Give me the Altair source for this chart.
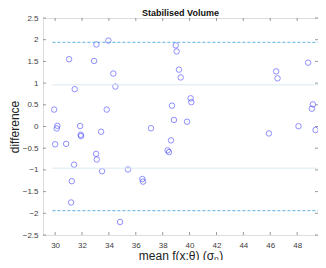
import altair as alt
import pandas as pd

mean_x = [29.93, 30.17, 30.12, 31.04, 31.46, 31.86, 31.90, 32.90, 33.07, 33.42,
          33.84, 33.96, 34.33, 34.48, 37.13, 30.00, 30.82, 31.93, 31.41, 31.24,
          31.19, 33.05, 33.10, 33.49, 34.83, 35.42, 36.49, 36.54, 38.97, 39.04,
          39.21, 39.34, 38.69, 38.84, 39.81, 40.08, 40.13, 45.90, 46.44, 46.54,
          48.82, 48.10, 49.17, 49.09, 49.37, 38.62, 38.37, 38.47]
diff_y = [0.39, 0.015, -0.045, 1.55, 0.86, 0.01, -0.19, 1.51, 1.89, -0.12,
          0.39, 1.98, 1.22, 0.92, -0.04, -0.41, -0.40, -0.22, -0.88, -1.26,
          -1.75, -0.63, -0.76, -1.03, -2.20, -0.99, -1.21, -1.27, 1.87, 1.73,
          1.31, 1.13, 0.48, 0.15, 0.11, 0.65, 0.56, -0.16, 1.27, 1.11,
          1.47, 0.007, 0.51, 0.41, -0.08, -0.32, -0.55, -0.59]

dash_levels = [1.94, -1.94]
solid_levels = [0.96, -0.96]
line_x_start = 29.8
line_x_end = 49.6

x_ticks = [30, 32, 34, 36, 38, 40, 42, 44, 46, 48, 50]
y_ticks = [-2.5, -2, -1.5, -1, -0.5, 0, 0.5, 1, 1.5, 2, 2.5]
x_domain = [29.1, 49.55]
y_domain = [-2.5, 2.5]
chart_title = ["Stabilised Volume"]

pts = pd.DataFrame({"x": mean_x, "y": diff_y})
dash_df = pd.DataFrame({"x": [line_x_start] * 2, "x2": [line_x_end] * 2, "y": dash_levels})
solid_df = pd.DataFrame({"x": [line_x_start] * 2, "x2": [line_x_end] * 2, "y": solid_levels})
xt = pd.DataFrame({"x": x_ticks})
yt = pd.DataFrame({"y": y_ticks})
tt = pd.DataFrame({"label": chart_title})

FONT = "Liberation Sans"
W, H = 275, 217
xs = alt.Scale(domain=x_domain, nice=False, zero=False)
ys = alt.Scale(domain=y_domain, nice=False, zero=False)

AX = alt.Axis(
    values=x_ticks, format="d", title="mean f(x;θ) (σₙ)", grid=False, ticks=False, domain=False,
    labelFontSize=8, labelColor="#404040", labelPadding=6, labelFont=FONT,
    labelOverlap=False, labelFlush=False,
    titleFont=FONT, titleFontSize=12, titleFontWeight="normal", titleColor="#222222",
    titlePadding=1)
AY = alt.Axis(
    values=y_ticks, format=".1~f", title="difference", grid=False, ticks=False, domain=False,
    labelFontSize=8, labelColor="#404040", labelPadding=5, labelFont=FONT,
    labelFlush=False, labelOverlap=False,
    titleFont=FONT, titleFontSize=12, titleFontWeight="normal", titleColor="#222222",
    titlePadding=1)

X = alt.X("x:Q", scale=xs, axis=AX, title="mean f(x;θ) (σₙ)")
Y = alt.Y("y:Q", scale=ys, axis=AY, title="difference")

points = alt.Chart(pts).mark_point(shape="circle", filled=False, color="#3a3aff",
                                   strokeWidth=0.8, size=30).encode(x=X, y=Y)

dash = alt.Chart(dash_df).mark_rule(color="#4aa8e0", strokeDash=[3, 2], strokeWidth=0.9).encode(
    x=X, x2="x2", y=Y)
solid = alt.Chart(solid_df).mark_rule(color="#d6e6ee", strokeWidth=0.9).encode(
    x=X, x2="x2", y=Y)

tick_col = "#808080"
xtick_bot = alt.Chart(xt).mark_rule(color=tick_col, strokeWidth=0.8).encode(
    x=X, y=alt.value(H), y2=alt.value(H - 3))
xtick_top = alt.Chart(xt).mark_rule(color=tick_col, strokeWidth=0.8).encode(
    x=X, y=alt.value(0), y2=alt.value(3))
ytick_l = alt.Chart(yt).mark_rule(color=tick_col, strokeWidth=0.8).encode(
    y=Y, x=alt.value(0), x2=alt.value(3))
ytick_r = alt.Chart(yt).mark_rule(color=tick_col, strokeWidth=0.8).encode(
    y=Y, x=alt.value(W), x2=alt.value(W - 3))

title_txt = alt.Chart(tt).mark_text(font=FONT, fontSize=9, fontWeight="bold", color="#111111",
                                    baseline="alphabetic", align="center").encode(
    text="label:N", x=alt.value(W / 2), y=alt.value(-2))

chart = alt.layer(points, solid, dash, xtick_bot, xtick_top, ytick_l, ytick_r, title_txt).properties(
    width=W, height=H,
    padding={"left": 35, "top": 10, "right": 0, "bottom": 25},
    autosize=alt.AutoSizeParams(type="none"),
).configure_view(stroke="#808080", strokeWidth=1).configure(background="white")

chart.save("out.html", embed_options={"renderer": "svg", "actions": False})
